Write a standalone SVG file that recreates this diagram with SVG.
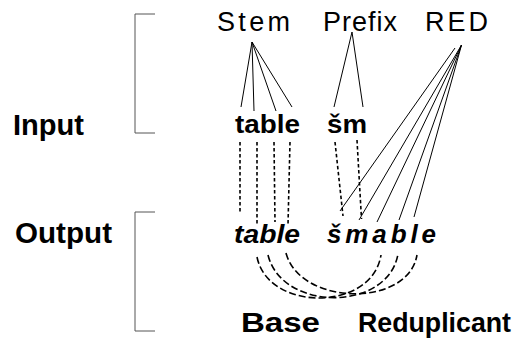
<svg xmlns="http://www.w3.org/2000/svg" width="517" height="339" viewBox="0 0 517 339">
  <style>
    text { font-family: "Liberation Sans", Arial, sans-serif; fill: #000; }
    .lbl { font-size: 29px; font-weight: bold; }
    .bot { font-size: 28px; font-weight: bold; }
    .tier { font-size: 27px; }
    .seg { font-size: 26px; font-weight: bold; }
    .out { font-style: italic; }
    .bracket { fill: none; stroke: #555; stroke-width: 1; }
    .assoc { fill: none; stroke: #000; stroke-width: 1; }
    .corr { fill: none; stroke: #000; stroke-width: 1.6; stroke-dasharray: 3.5 2.5; }
    .br { fill: none; stroke: #000; stroke-width: 1.6; stroke-dasharray: 7 3; }
  </style>
  <rect width="517" height="339" fill="#fff"/>

  <!-- level brackets -->
  <g id="input-level">
    <path class="bracket" d="M155,14 H135 V133 H155"/>
    <text class="lbl" x="13" y="135" textLength="71" lengthAdjust="spacingAndGlyphs">Input</text>
  </g>
  <g id="output-level">
    <path class="bracket" d="M155,212 H135 V331 H155"/>
    <text class="lbl" x="15" y="243" textLength="97" lengthAdjust="spacingAndGlyphs">Output</text>
  </g>

  <!-- morpheme tier -->
  <g id="stem"><text class="tier" x="217" y="31" textLength="73" lengthAdjust="spacing">Stem</text></g>
  <g id="prefix"><text class="tier" x="323" y="31" textLength="74" lengthAdjust="spacing">Prefix</text></g>
  <g id="red"><text class="tier" x="425" y="31" textLength="63" lengthAdjust="spacing">RED</text></g>

  <!-- input segments -->
  <g id="input-table"><text class="seg" x="235" y="133" textLength="65" lengthAdjust="spacingAndGlyphs">table</text></g>
  <g id="input-sm"><text class="seg" x="327" y="133" textLength="40" lengthAdjust="spacingAndGlyphs">šm</text></g>

  <!-- output forms -->
  <g id="output-table"><text class="seg out" x="234" y="243" textLength="66" lengthAdjust="spacingAndGlyphs">table</text></g>
  <g id="output-smable"><text class="seg out" x="327" y="243" textLength="109" lengthAdjust="spacing">šmable</text></g>

  <!-- base / reduplicant -->
  <g id="base"><text class="bot" x="241" y="332" textLength="79" lengthAdjust="spacingAndGlyphs">Base</text></g>
  <g id="reduplicant"><text class="bot" x="358" y="332" textLength="153" lengthAdjust="spacingAndGlyphs">Reduplicant</text></g>

  <g id="connectors">
    <!-- association lines -->
    <path class="assoc" d="M252,42 L241,107 M252,42 L254,111 M252,42 L276,111 M252,42 L292,107"/>
    <path class="assoc" d="M352,32 L334,107 M352,32 L363,107"/>
    <path class="assoc" d="M455,48 L340,211 M461.5,45 L359,220 M461.5,45 L377,222 M461.5,45 L399,220 M461.5,45 L414,217"/>
    <!-- input-output correspondence -->
    <path class="corr" d="M240,142 L240,214 M257,142 L257,226 M274,142 L275,222 M290,142 L288,225"/>
    <path class="corr" d="M335,142 L343,216 M357,140 L361.5,219"/>
    <!-- base-reduplicant correspondence -->
    <path class="br" d="M257,257 C268,312 372,312 381,255"/>
    <path class="br" d="M268,255 C282,312 388,312 398,254"/>
    <path class="br" d="M286,253 C300,306 408,308 417,255"/>
  </g>
</svg>
